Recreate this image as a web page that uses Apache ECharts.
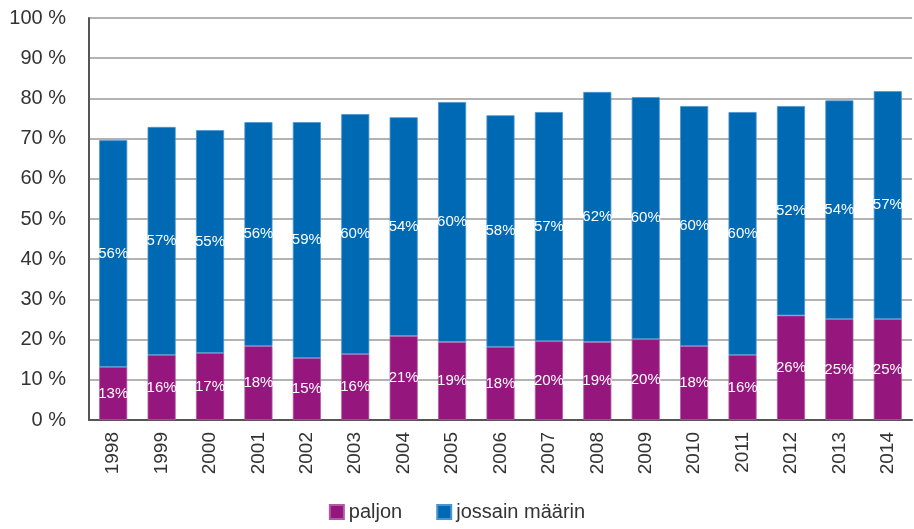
<!DOCTYPE html>
<html>
<head>
<meta charset="utf-8">
<script src="https://cdn.jsdelivr.net/npm/echarts@6/dist/echarts.min.js"></script>
<style>
  html, body { margin: 0; padding: 0; background: #fff; }
  #chart { width: 914px; height: 529px; }
</style>
</head>
<body>
<div id="chart"></div>
<script>
const years = ['1998', '1999', '2000', '2001', '2002', '2003', '2004', '2005', '2006',
  '2007', '2008', '2009', '2010', '2011', '2012', '2013', '2014'];
// paljon (bottom segment), %
const paljon = [13.2, 16.2, 16.7, 18.4, 15.4, 16.4, 20.9, 19.4, 18.2,
  19.6, 19.4, 20.1, 18.4, 16.2, 26.0, 25.1, 25.1];
// jossain määrin (upper segment), %
const jossain = [56.4, 56.7, 55.4, 55.7, 58.7, 59.7, 54.4, 59.7, 57.6,
  57.0, 62.2, 60.2, 59.7, 60.4, 52.1, 54.4, 56.7];

const fontFam = '"Liberation Sans", "DejaVu Sans", sans-serif';

const chart = echarts.init(document.getElementById('chart'));

const segLabel = {
  show: true,
  position: 'inside',
  color: '#fff',
  fontSize: 15,
  fontFamily: fontFam,
  formatter: p => Math.round(p.value) + '%'
};

chart.setOption({
  animation: false,
  grid: { left: 89, right: 2, top: 18, bottom: 109 },
  legend: {
    bottom: 2,
    left: 'center',
    itemWidth: 14,
    itemHeight: 14,
    itemGap: 34,
    icon: 'rect',
    textStyle: { fontSize: 20, color: '#333', fontFamily: fontFam }
  },
  xAxis: {
    type: 'category',
    data: years,
    axisLine: { lineStyle: { color: '#555', width: 2 } },
    axisTick: { show: false },
    axisLabel: {
      rotate: 90,
      margin: 12,
      fontSize: 19,
      color: '#333',
      fontFamily: fontFam
    }
  },
  yAxis: {
    type: 'value',
    min: 0,
    max: 100,
    interval: 10,
    axisLine: { show: true, lineStyle: { color: '#555', width: 2 } },
    axisTick: { show: false },
    axisLabel: {
      margin: 23,
      fontSize: 20,
      color: '#333',
      fontFamily: fontFam,
      formatter: v => v + ' %'
    },
    splitLine: { lineStyle: { color: '#9a9a9a', width: 1.5 } }
  },
  series: [
    {
      name: 'paljon',
      type: 'bar',
      stack: 'total',
      data: paljon,
      barWidth: '58%',
      itemStyle: { color: '#95177E', borderColor: '#b05aa2', borderWidth: 0.8 },
      label: segLabel
    },
    {
      name: 'jossain määrin',
      type: 'bar',
      stack: 'total',
      data: jossain,
      barWidth: '58%',
      itemStyle: { color: '#0069B4', borderColor: '#4a95cf', borderWidth: 0.8 },
      label: segLabel
    }
  ]
});
</script>
</body>
</html>
